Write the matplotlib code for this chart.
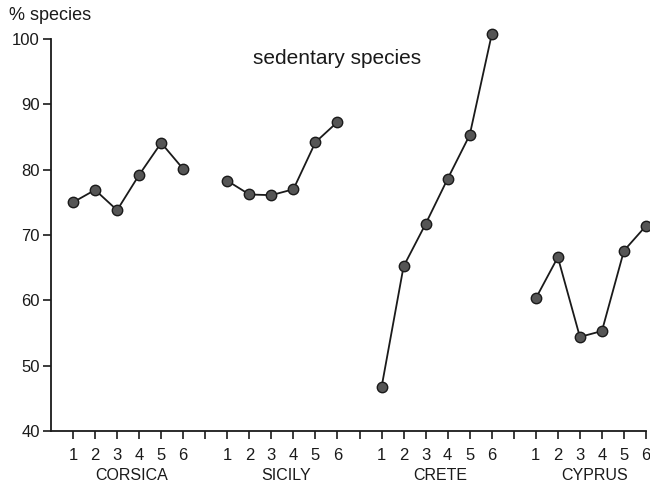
import numpy as np
import matplotlib
matplotlib.use('Agg')
import matplotlib.pyplot as plt

plt.rcParams['font.family'] = ['Liberation Sans', 'DejaVu Sans']

# % sedentary species per island, stations 1-6
islands = ['CORSICA', 'SICILY', 'CRETE', 'CYPRUS']
stations = [1, 2, 3, 4, 5, 6]
corsica = [75.0, 76.9, 73.8, 79.2, 84.1, 80.1]
sicily = [78.3, 76.2, 76.1, 77.0, 84.2, 87.3]
crete = [46.7, 65.2, 71.7, 78.6, 85.3, 100.7]
cyprus = [60.3, 66.6, 54.4, 55.3, 67.6, 71.4]
series = [corsica, sicily, crete, cyprus]

fig = plt.figure(figsize=(6.5, 4.86), dpi=100)
ax = fig.add_axes([51 / 650, 1 - 431 / 486, 595 / 650, 392 / 486])

gap = 7  # six stations plus one empty slot per island
xticks = []
xlabels = []
for k, (name, vals) in enumerate(zip(islands, series)):
    xs = np.array(stations) + k * gap
    ax.plot(xs, vals, '-', color='#1a1a1a', lw=1.3, marker='o', ms=7.5,
            mfc='#555555', mec='#1a1a1a', mew=1.0, clip_on=False, zorder=3)
    xticks += list(xs)
    xlabels += [str(s) for s in stations]
    if k < len(islands) - 1:
        xticks.append(k * gap + gap)
        xlabels.append('')
    ax.text(np.mean(xs) + 0.15, -0.113, name, transform=ax.get_xaxis_transform(),
            ha='center', va='center', fontsize=11.5, color='#1a1a1a')

ax.set_xlim(0, 27)
ax.set_ylim(40, 100)
ax.set_yticks([40, 50, 60, 70, 80, 90, 100])
ax.set_xticks(xticks)
ax.set_xticklabels(xlabels)

for side in ['top', 'right']:
    ax.spines[side].set_visible(False)
for side in ['left', 'bottom']:
    ax.spines[side].set_linewidth(1.3)
    ax.spines[side].set_color('#1a1a1a')
ax.tick_params(axis='both', direction='out', length=6, width=1.2, color='#1a1a1a',
               labelsize=12, labelcolor='#1a1a1a')
ax.tick_params(axis='x', pad=6)
ax.tick_params(axis='y', pad=2)

fig.text(9 / 650, 1 - 16 / 486, '% species', ha='left', va='center',
         fontsize=13, color='#1a1a1a')
fig.text(337 / 650, 1 - 58 / 486, 'sedentary species', ha='center', va='center',
         fontsize=15, color='#1a1a1a')

fig.savefig('out.png', dpi=100)
